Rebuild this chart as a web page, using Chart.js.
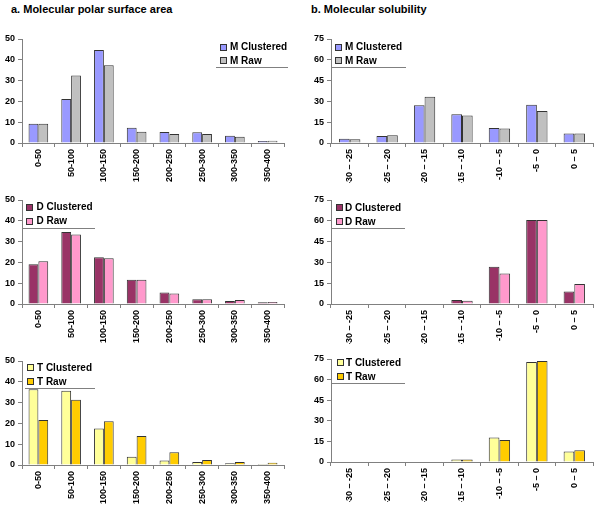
<!DOCTYPE html>
<html>
<head>
<meta charset="utf-8">
<script src="https://cdn.jsdelivr.net/npm/chart.js@4.4.1/dist/chart.umd.min.js"></script>
<style>
  html, body { margin: 0; padding: 0; background: #fff; }
  #wrap { position: relative; width: 600px; height: 507px; overflow: hidden; }
  .title { position: absolute; font: bold 11px "Liberation Sans", Arial, sans-serif; line-height: 13px; color: #000; white-space: nowrap; }
  canvas { position: absolute; }
</style>
</head>
<body>
<div id="wrap">
  <div class="title" style="left:11px; top:3px;">a. Molecular polar surface area</div>
  <div class="title" style="left:311px; top:3px;">b. Molecular solubility</div>
  <canvas id="c1"></canvas>
  <canvas id="c2"></canvas>
  <canvas id="c3"></canvas>
  <canvas id="c4"></canvas>
  <canvas id="c5"></canvas>
  <canvas id="c6"></canvas>
</div>
<script>
// ---- categories ----
const psaCategories = ['0-50', '50-100', '100-150', '150-200', '200-250', '250-300', '300-350', '350-400'];
const solCategories = ['-30 – -25', '-25 – -20', '-20 – -15', '-15 – -10', '-10 – -5', '-5 – 0', '0 – 5'];

// ---- polar surface area (%) ----
const mPsaClustered = [9.3, 21.2, 44.7, 7.3, 5.3, 5.2, 3.5, 1.0];
const mPsaRaw       = [9.3, 32.4, 37.4, 5.4, 4.3, 4.3, 3.0, 1.1];
const dPsaClustered = [19.1, 34.6, 22.5, 11.6, 5.5, 2.3, 1.4, 0.8];
const dPsaRaw       = [20.6, 33.4, 22.0, 11.6, 5.1, 2.3, 1.9, 1.0];
const tPsaClustered = [36.4, 35.7, 17.6, 4.0, 2.2, 1.4, 0.8, 0.5];
const tPsaRaw       = [21.6, 31.4, 21.0, 13.9, 6.1, 2.4, 1.4, 1.1];

// ---- solubility (%) ----
const mSolClustered = [3.1, 5.1, 27.2, 20.7, 10.9, 27.5, 6.8];
const mSolRaw       = [2.7, 5.5, 33.3, 19.8, 10.4, 23.1, 6.8];
const dSolClustered = [0, 0, 0.4, 2.9, 26.9, 60.5, 9.0];
const dSolRaw       = [0, 0, 0.4, 2.4, 22.0, 60.5, 14.5];
const tSolClustered = [0, 0, 0.4, 1.9, 17.9, 72.8, 7.7];
const tSolRaw       = [0, 0, 0.4, 1.9, 16.0, 73.5, 8.5];

// ---- series labels / y-axis ticks ----
const seriesLabels = {
  m: ['M Clustered', 'M Raw'],
  d: ['D Clustered', 'D Raw'],
  t: ['T Clustered', 'T Raw']
};
const psaAxis = { max: 50, step: 10 };
const solAxis = { max: 75, step: 15 };

const colors = {
  m: ['#9999FF', '#C0C0C0'],
  d: ['#993366', '#FF99CC'],
  t: ['#FFFF99', '#FFCC00']
};

const FONT = '"Liberation Sans", Arial, sans-serif';
const AXIS_COLOR = '#808080';

const insetLegend = {
  id: 'insetLegend',
  afterDraw(chart, args, o) {
    const ctx = chart.ctx;
    ctx.save();
    ctx.font = 'bold 10px ' + FONT;
    ctx.textBaseline = 'middle';
    ctx.textAlign = 'left';
    chart.data.datasets.forEach((ds, i) => {
      const y = o.rows[i] - o.oy;
      const bx = o.boxX - o.ox;
      ctx.fillStyle = ds.backgroundColor;
      ctx.fillRect(bx, Math.round(y - 3.5), 7, 7);
      ctx.strokeStyle = '#333';
      ctx.lineWidth = 1;
      ctx.strokeRect(bx + 0.5, Math.round(y - 3.5) + 0.5, 6, 6);
      ctx.fillStyle = '#000';
      ctx.fillText(ds.label, o.textX - o.ox, y + 0.5);
    });
    ctx.strokeStyle = AXIS_COLOR;
    ctx.lineWidth = 1;
    ctx.beginPath();
    const ly = Math.round(o.lineY - o.oy) + 0.5;
    ctx.moveTo(o.line[0] - o.ox, ly);
    ctx.lineTo(o.line[1] - o.ox, ly);
    ctx.stroke();
    ctx.restore();
  }
};

function makeChart(id, pos, cats, key, clustered, raw, axis, legend) {
  const cv = document.getElementById(id);
  cv.style.left = pos.left + 'px';
  cv.style.top = pos.top + 'px';
  cv.width = pos.width;
  cv.height = pos.height;
  cv.style.width = pos.width + 'px';
  cv.style.height = pos.height + 'px';
  legend.ox = pos.left;
  legend.oy = pos.top;
  return new Chart(cv, {
    type: 'bar',
    data: {
      labels: cats,
      datasets: [
        { label: seriesLabels[key][0], data: clustered, backgroundColor: colors[key][0], borderColor: '#333', borderWidth: 1,
          categoryPercentage: pos.cat, barPercentage: 1.0 },
        { label: seriesLabels[key][1], data: raw, backgroundColor: colors[key][1], borderColor: '#333', borderWidth: 1,
          categoryPercentage: pos.cat, barPercentage: 1.0 }
      ]
    },
    options: {
      responsive: false,
      animation: false,
      devicePixelRatio: 1,
      layout: { padding: { top: pos.padTop, right: pos.padRight, left: 0, bottom: 0 } },
      plugins: {
        legend: { display: false },
        tooltip: { enabled: false },
        insetLegend: legend
      },
      scales: {
        x: {
          offset: true,
          grid: { offset: true, drawOnChartArea: false, drawTicks: true, tickLength: 4, color: AXIS_COLOR },
          border: { color: AXIS_COLOR, width: 1 },
          ticks: { font: { family: FONT, size: 9, weight: 'bold' }, color: '#000', minRotation: 90, maxRotation: 90, autoSkip: false, padding: 2 },
          afterFit: s => { s.height = pos.xh; }
        },
        y: {
          min: 0, max: axis.max,
          grid: { drawOnChartArea: false, drawTicks: true, tickLength: 4, color: AXIS_COLOR },
          border: { color: AXIS_COLOR, width: 1 },
          ticks: { stepSize: axis.step, font: { family: FONT, size: 9, weight: 'bold' }, color: '#000', padding: 3 },
          afterFit: s => { s.width = pos.yw; }
        }
      }
    },
    plugins: [insetLegend]
  });
}

// left column: chart area x 22..284 ; right column: x 331..593
makeChart('c1', { left: 0, top: 30, width: 300, height: 153, padTop: 9, padRight: 16, yw: 22, xh: 40, cat: 0.6 },
  psaCategories, 'm', mPsaClustered, mPsaRaw, psaAxis,
  { rows: [47, 60.5], boxX: 220, textX: 230, lineY: 67, line: [216, 288] });
makeChart('c2', { left: 300, top: 30, width: 300, height: 153, padTop: 9, padRight: 7, yw: 31, xh: 40, cat: 0.57 },
  solCategories, 'm', mSolClustered, mSolRaw, solAxis,
  { rows: [47, 60.5], boxX: 335, textX: 345, lineY: 67, line: [332, 406] });
makeChart('c3', { left: 0, top: 190, width: 300, height: 154, padTop: 10, padRight: 16, yw: 22, xh: 40, cat: 0.6 },
  psaCategories, 'd', dPsaClustered, dPsaRaw, psaAxis,
  { rows: [207, 221], boxX: 26, textX: 36.5, lineY: 228, line: [23, 95] });
makeChart('c4', { left: 300, top: 190, width: 300, height: 154, padTop: 10, padRight: 7, yw: 31, xh: 40, cat: 0.57 },
  solCategories, 'd', dSolClustered, dSolRaw, solAxis,
  { rows: [207.5, 221.5], boxX: 336, textX: 345, lineY: 228, line: [332, 405] });
makeChart('c5', { left: 0, top: 350, width: 300, height: 155, padTop: 11, padRight: 16, yw: 22, xh: 40, cat: 0.6 },
  psaCategories, 't', tPsaClustered, tPsaRaw, psaAxis,
  { rows: [367.3, 381.3], boxX: 27, textX: 37, lineY: 387.5, line: [25, 95] });
makeChart('c6', { left: 300, top: 350, width: 300, height: 152, padTop: 9, padRight: 7, yw: 31, xh: 40, cat: 0.57 },
  solCategories, 't', tSolClustered, tSolRaw, solAxis,
  { rows: [362.3, 376.7], boxX: 337, textX: 346, lineY: 383, line: [332, 405] });
</script>
</body>
</html>
